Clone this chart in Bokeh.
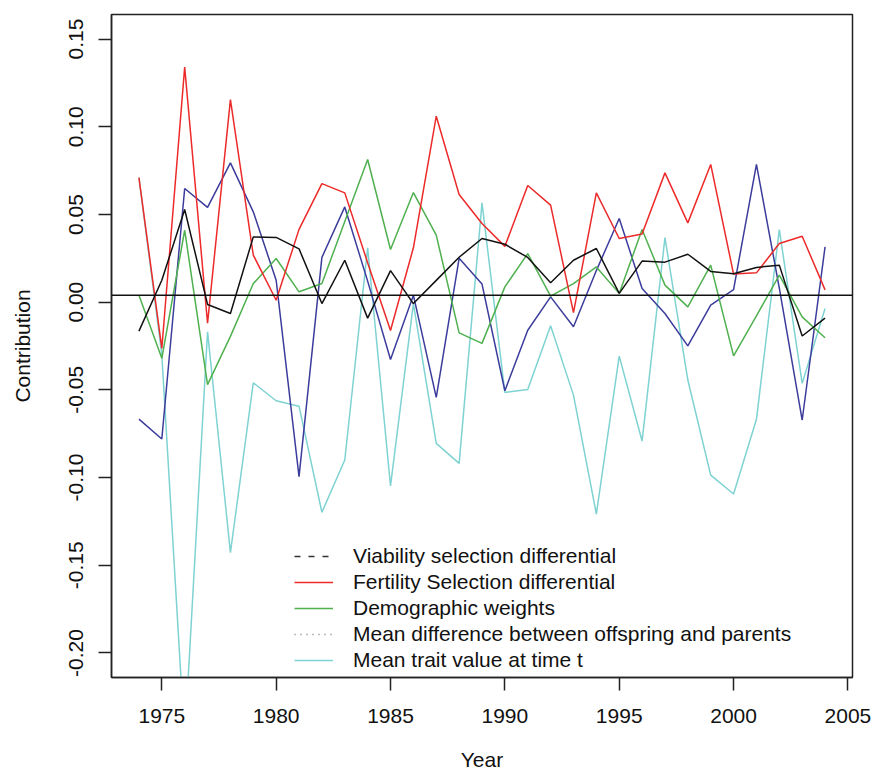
from bokeh.plotting import figure
from bokeh.models import (FixedTicker, PrintfTickFormatter, Span, Legend, LegendItem,
                          ColumnDataSource, Range1d)
from bokeh.embed import file_html
from bokeh.resources import INLINE

years = list(range(1974, 2005))

viability = [-0.0165, 0.0125, 0.0528, -0.0013, -0.0065, 0.0372, 0.0369, 0.0304, -0.0008, 0.0239,
             -0.0091, 0.0180, -0.0008, 0.0124, 0.0256, 0.0363, 0.0330, 0.0255, 0.0111, 0.0239,
             0.0306, 0.0050, 0.0234, 0.0228, 0.0273, 0.0175, 0.0162, 0.0198, 0.0211, -0.0193,
             -0.0091]

fertility = [0.0710, -0.0264, 0.1340, -0.0120, 0.1155, 0.0268, 0.0011, 0.0415, 0.0676, 0.0623,
             0.0225, -0.0162, 0.0310, 0.1060, 0.0614, 0.0448, 0.0318, 0.0665, 0.0553, -0.0060,
             0.0623, 0.0363, 0.0388, 0.0737, 0.0452, 0.0785, 0.0160, 0.0167, 0.0334, 0.0376,
             0.0070]

demographic = [0.0040, -0.0320, 0.0410, -0.0470, -0.0195, 0.0106, 0.0249, 0.0059, 0.0106, 0.0460,
               0.0813, 0.0300, 0.0625, 0.0382, -0.0175, -0.0235, 0.0087, 0.0277, 0.0034, 0.0106,
               0.0201, 0.0050, 0.0414, 0.0097, -0.0027, 0.0211, -0.0306, -0.0078, 0.0154, -0.0084,
               -0.0203]

mean_diff = [-0.0667, -0.0780, 0.0648, 0.0540, 0.0794, 0.0515, 0.0125, -0.0995, 0.0255, 0.0543,
             0.0120, -0.0327, 0.0040, -0.0543, 0.0250, 0.0103, -0.0505, -0.0160, 0.0030, -0.0140,
             0.0180, 0.0477, 0.0078, -0.0065, -0.0249, -0.0017, 0.0072, 0.0786, 0.0080, -0.0672,
             0.0315]

mean_trait = [0.0710, -0.0300, -0.2500, -0.0169, -0.1428, -0.0460, -0.0562, -0.0593, -0.1198, -0.0900,
              0.0310, -0.1048, -0.0008, -0.0805, -0.0919, 0.0566, -0.0515, -0.0498, -0.0135, -0.0530,
              -0.1208, -0.0308, -0.0792, 0.0368, -0.0444, -0.0986, -0.1094, -0.0668, 0.0414, -0.0463,
              -0.0036]

baseline = 0.004

x_ticks = [1975, 1980, 1985, 1990, 1995, 2000, 2005]
y_ticks = [-0.20, -0.15, -0.10, -0.05, 0.00, 0.05, 0.10, 0.15]

labels = ["Viability selection differential",
          "Fertility Selection differential",
          "Demographic weights",
          "Mean difference between offspring and parents",
          "Mean trait value at time t"]

FONT = "Liberation Sans"
NAN = float("nan")

src = ColumnDataSource(dict(year=years, via=viability, fer=fertility, dem=demographic,
                            mdiff=mean_diff, trait=mean_trait))

p = figure(width=873, height=776, output_backend="svg", toolbar_location=None,
           x_range=Range1d(1972.8, 2005.2), y_range=Range1d(-0.214, 0.164),
           min_border_left=111, min_border_right=21, min_border_top=14, min_border_bottom=99)

p.background_fill_color = "white"
p.border_fill_color = "white"
p.outline_line_color = "#222222"
p.outline_line_width = 1.5
p.xgrid.visible = False
p.ygrid.visible = False

lw = 1.5
r_trait = p.line("year", "trait", source=src, line_color="#7fd2d2", line_width=lw)
r_md = p.line("year", "mdiff", source=src, line_color="#3c3c9c", line_width=lw)
r_dem = p.line("year", "dem", source=src, line_color="#4fb04f", line_width=lw)
r_fer = p.line("year", "fer", source=src, line_color="#ec2a2a", line_width=lw)
r_via = p.line("year", "via", source=src, line_color="#111111", line_width=lw)

p.add_layout(Span(location=baseline, dimension="width", line_color="#111111", line_width=1.5))

# legend-only renderers (styles as shown in the legend); NaN data draws nothing in the plot
dummy = ColumnDataSource(dict(x=[NAN, NAN], y=[NAN, NAN]))
l_via = p.line("x", "y", source=dummy, line_color="#333333", line_width=1.5, line_dash="6 8")
l_md = p.line("x", "y", source=dummy, line_color="#777777", line_width=1.5, line_dash="1 5")

legend = Legend(items=[LegendItem(label=labels[0], renderers=[l_via]),
                       LegendItem(label=labels[1], renderers=[r_fer]),
                       LegendItem(label=labels[2], renderers=[r_dem]),
                       LegendItem(label=labels[3], renderers=[l_md]),
                       LegendItem(label=labels[4], renderers=[r_trait])],
                location=(183, 5), padding=0, margin=0, spacing=2,
                glyph_width=39, glyph_height=24, label_height=24, label_standoff=20,
                border_line_alpha=0, background_fill_alpha=0,
                label_text_font=FONT, label_text_font_size="21px", label_text_color="#111111")
p.add_layout(legend)

for ax in (p.xaxis[0], p.yaxis[0]):
    ax.axis_line_color = "#222222"
    ax.axis_line_width = 1.5
    ax.major_tick_line_color = "#222222"
    ax.major_tick_line_width = 1.5
    ax.major_tick_in = 0
    ax.major_tick_out = 13
    ax.minor_tick_line_color = None
    ax.major_label_text_font = FONT
    ax.major_label_text_font_size = "21px"
    ax.major_label_text_color = "#111111"
    ax.axis_label_text_font = FONT
    ax.axis_label_text_font_size = "21px"
    ax.axis_label_text_font_style = "normal"
    ax.axis_label_text_color = "#111111"

p.xaxis.ticker = FixedTicker(ticks=x_ticks)
p.yaxis.ticker = FixedTicker(ticks=y_ticks)
p.yaxis.formatter = PrintfTickFormatter(format="%.2f")
p.yaxis.major_label_orientation = "vertical"
p.xaxis.axis_label = "Year"
p.yaxis.axis_label = "Contribution"
p.xaxis.major_label_standoff = 18
p.xaxis.axis_label_standoff = 22
p.yaxis.major_label_standoff = 15
p.yaxis.axis_label_standoff = 33

open("out.html", "w").write(file_html(p, INLINE))
